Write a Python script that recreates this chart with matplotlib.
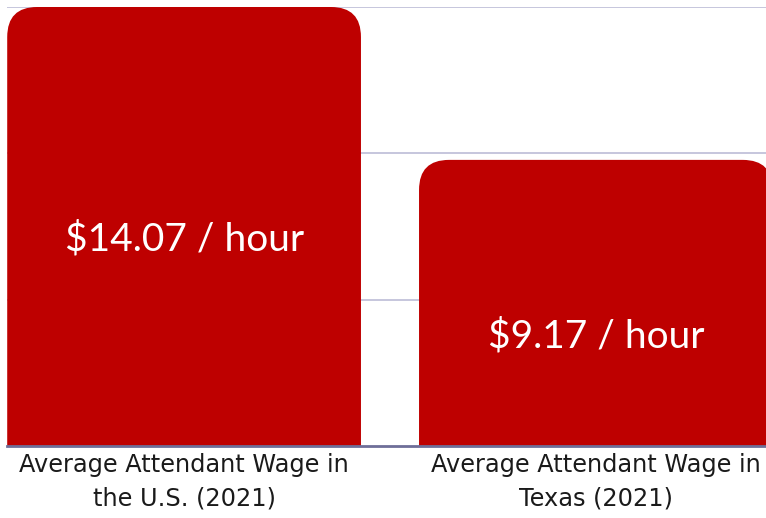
import matplotlib
matplotlib.use('Agg')
import matplotlib.pyplot as plt
from matplotlib.patches import FancyBboxPatch
from matplotlib import font_manager

# chart data
categories = ["Average Attendant Wage in\nthe U.S. (2021)",
              "Average Attendant Wage in\nTexas (2021)"]
wages = [14.07, 9.17]
bar_labels = ["$14.07 / hour", "$9.17 / hour"]

BAR_COLOR = "#BE0000"
GRID_COLOR = "#C2C2DA"
BASE_COLOR = "#6E6E98"

names = {f.name for f in font_manager.fontManager.ttflist}
tick_font = "Liberation Sans Narrow" if "Liberation Sans Narrow" in names else "DejaVu Sans Condensed"
value_font = "Lato" if "Lato" in names else "DejaVu Sans"

W, H = 766, 518
fig = plt.figure(figsize=(W / 100, H / 100), dpi=100)
ax = fig.add_axes([7 / W, 72 / H, (W - 7) / W, (446 - 7) / H])

ymax = max(wages)
ax.set_ylim(0, ymax)
ax.set_xlim(-0.43, 1.413)

# gridlines at thirds of the range
for k in (1, 2, 3):
    ax.axhline(ymax * k / 3, color=GRID_COLOR, lw=1.3, zorder=0)

width = 0.859
# pixel scales, used to make round corners circular
px_x = ax.get_position().width * W / (1.413 + 0.43)
px_y = ax.get_position().height * H / ymax
radius_px = 30
for i, v in enumerate(wages):
    patch = FancyBboxPatch((i - width / 2, -2), width, v + 2,
                           boxstyle=f"round,pad=0,rounding_size={radius_px / px_x}",
                           mutation_aspect=px_x / px_y,
                           fc=BAR_COLOR, ec="none", zorder=2)
    ax.add_patch(patch)

label_frac = [0.47, 0.385]
for i, (v, lab) in enumerate(zip(wages, bar_labels)):
    ax.text(i, v * label_frac[i], lab, ha="center", va="center",
            color="white", fontsize=28, family=value_font, zorder=3)

ax.axhline(0, color=BASE_COLOR, lw=2, zorder=4, clip_on=False)

ax.set_xticks([0, 1])
ax.set_xticklabels(categories, fontsize=17.3, family=tick_font,
                   color="#1a1a1a", linespacing=1.5)
ax.tick_params(axis="x", length=0, pad=5)
ax.set_yticks([])
for s in ax.spines.values():
    s.set_visible(False)

fig.savefig("out.png", dpi=100)
